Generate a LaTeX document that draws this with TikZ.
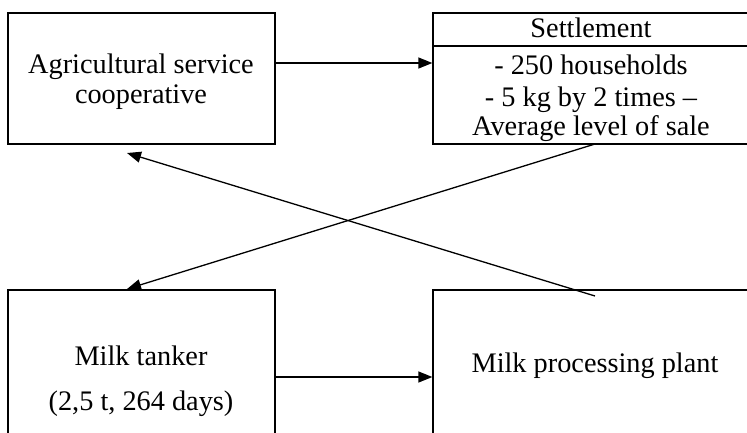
\documentclass[tikz,border=0pt]{standalone}
\usepackage{fontspec}
\setmainfont{Liberation Serif}
\usetikzlibrary{arrows.meta}
\begin{document}
\begin{tikzpicture}[x=1pt,y=-1pt,
  box/.style={draw, line width=1.3pt, rectangle, inner sep=0pt},
  txt/.style={anchor=base, inner sep=0pt, font=\fontsize{28.3}{30}\selectfont},
  arr/.style={line width=1.3pt, -{Triangle[length=14pt,width=11pt]}},
  ln/.style={line width=1.3pt}]
\useasboundingbox (0,0) rectangle (747,432);
\clip (0,0) rectangle (747,432);
% boxes
\node[box, minimum width=267pt, minimum height=131pt] (agri) at (141.5,78.5) {};
\node[box, minimum width=320pt, minimum height=131pt] (settle) at (593,78.5) {};
\draw[ln] (433,46) coordinate (sh1) -- (753,46) coordinate (sh2);
\node[box, minimum width=267pt, minimum height=160pt] (tank) at (141.5,370) {};
\node[box, minimum width=320pt, minimum height=160pt] (plant) at (593,370) {};
% texts
\node[txt] (t1) at (141,73) {Agricultural service};
\node[txt] (t2) at (141,103) {cooperative};
\node[txt] (t3) at (591,37) {Settlement};
\node[txt] (t4) at (591,74) {- 250 households};
\node[txt] (t5) at (591,106) {- 5 kg by 2 times –};
\node[txt] (t6) at (591,135) {Average level of sale};
\node[txt] (t7) at (141,365) {Milk tanker};
\node[txt] (t8) at (141,410) {(2,5 t, 264 days)};
\node[txt] (t9) at (595,372) {Milk processing plant};
% connector end points
\coordinate (a1) at (agri.east |- 0,63);
\coordinate (a2) at (settle.west |- 0,63);
\coordinate (b1) at (tank.east |- 0,377);
\coordinate (b2) at (plant.west |- 0,377);
\coordinate (s1) at (595,144);
\coordinate (s2) at (127,289);
\coordinate (p1) at (595,296);
\coordinate (p2) at (127,153);
% connectors
\draw[arr] (a1) -- (a2);
\draw[arr] (b1) -- (b2);
\draw[arr] (s1) -- (s2);
\draw[arr] (p1) -- (p2);
\end{tikzpicture}
\end{document}
